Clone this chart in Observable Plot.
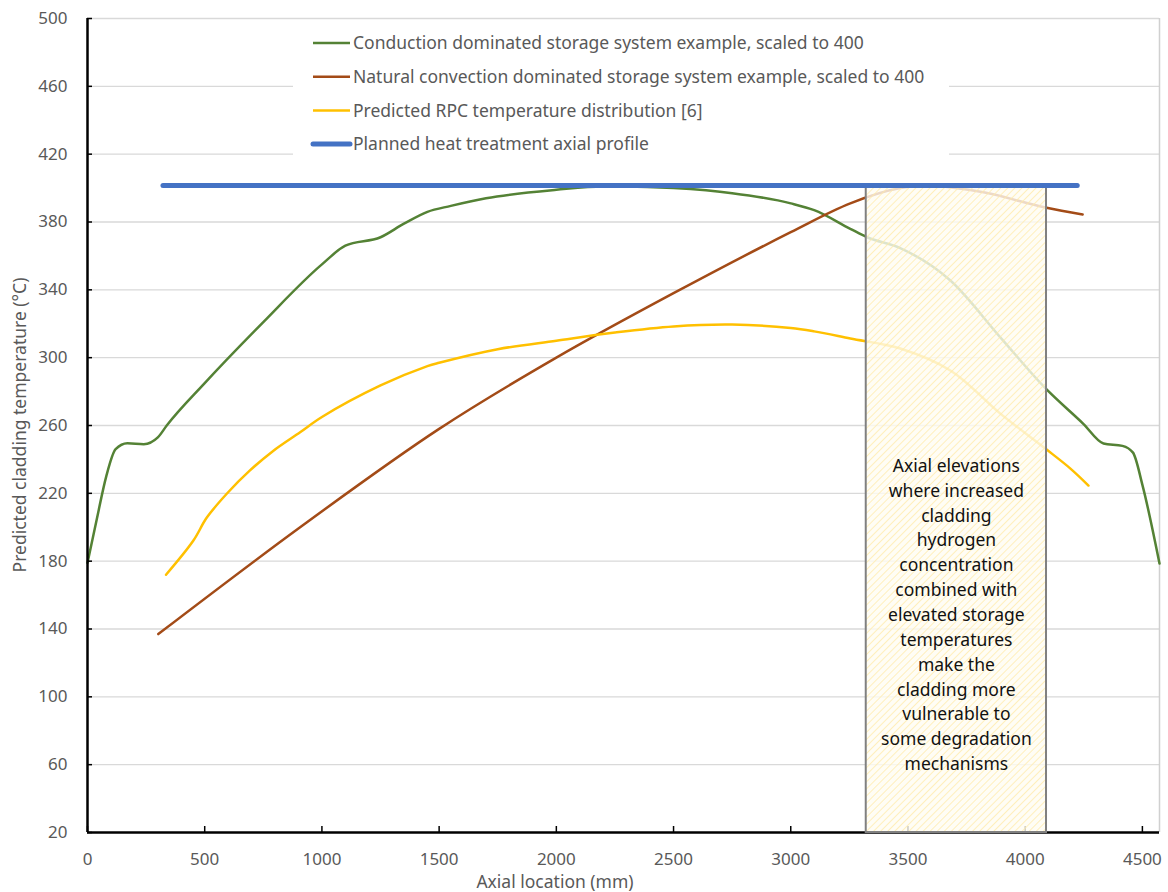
<!DOCTYPE html>
<html><head><meta charset="utf-8">
<script src="https://cdn.jsdelivr.net/npm/d3@7"></script>
<script src="https://cdn.jsdelivr.net/npm/@observablehq/plot@0.6"></script>
<style>body{margin:0;background:#fff} #chart svg{display:block}</style>
</head><body><div id="chart"></div>
<script>
// ---- data ----
const xTicks = [0, 500, 1000, 1500, 2000, 2500, 3000, 3500, 4000, 4500];
const yTicks = [20, 60, 100, 140, 180, 220, 260, 300, 340, 380, 420, 460, 500];
const xMax = 4573;

const seriesNames = [
  "Conduction dominated storage system example, scaled to 400",
  "Natural convection dominated storage system example, scaled to 400",
  "Predicted RPC temperature distribution [6]",
  "Planned heat treatment axial profile"
];
const seriesColors = ["#548235", "#a34b17", "#ffc000", "#4472c4"];

const condX = [0, 40, 80, 120, 170, 240, 300, 338, 500, 750, 1000, 1100, 1250, 1350, 1450, 1550, 1700, 2000, 2200, 2300, 2500, 2750, 3000, 3100, 3254, 3326, 3467, 3681, 3894, 4086, 4248, 4334, 4415, 4460, 4500, 4573];
const condT = [179, 205, 230, 246, 249.5, 249, 253, 260, 285, 321, 355, 366, 371, 379, 386, 389.5, 394, 399, 401, 401, 400, 397, 391, 387, 376, 371, 364.6, 345.5, 312, 282, 261, 249.4, 248, 244, 225, 178.6];

const natX = [302, 907, 1500, 2000, 2500, 3000, 3254, 3467, 3608, 3822, 4086, 4245];
const natT = [137, 200, 258, 300, 338, 374, 391, 400, 401.3, 397.5, 388.5, 384.4];

const rpcX = [335, 451, 509, 595, 693, 792, 907, 1000, 1250, 1450, 1500, 1750, 2000, 2250, 2500, 2750, 3000, 3100, 3254, 3467, 3681, 3894, 4086, 4193, 4270];
const rpcT = [172, 192, 205.7, 219.9, 233.5, 245, 256, 265, 283.6, 295, 297, 305, 310, 314.8, 318.4, 319.5, 317.5, 315.5, 311.3, 305.4, 292.4, 267, 246.4, 234.6, 224.6];

const planX = [322, 4222];
const planT = [401.5, 401.5];

const zoneX1 = 3322, zoneX2 = 4091, zoneY1 = 20, zoneY2 = 401;
const noteText = "Axial elevations\nwhere increased\ncladding\nhydrogen\nconcentration\ncombined with\nelevated storage\ntemperatures\nmake the\ncladding more\nvulnerable to\nsome degradation\nmechanisms";
const noteY = 149.4;

// ---- build tables ----
const toRows = (xs, ts) => xs.map((x, i) => ({x, t: ts[i]}));
const cond = toRows(condX, condT);
const nat = toRows(natX, natT);
const rpc = toRows(rpcX, rpcT);
const plan = toRows(planX, planT);
const zone = [{x1: zoneX1, x2: zoneX2, y1: zoneY1, y2: zoneY2}];
const note = [{x: (zoneX1 + zoneX2) / 2, y: noteY, text: noteText}];

const font = "'Noto Sans', sans-serif";
const fmt = d3.format("d");

const chart = Plot.plot({
  width: 1168, height: 892,
  marginLeft: 87, marginRight: 9, marginTop: 18, marginBottom: 60,
  style: {fontFamily: font, fontSize: "17px", color: "#595959", background: "#fff"},
  x: {domain: [0, xMax], label: null},
  y: {domain: [20, 500], label: null},
  marks: [
    Plot.gridY(yTicks.filter(t => t > 20), {stroke: "#d9d9d9", strokeOpacity: 1, strokeWidth: 1.3}),
    Plot.ruleX([xMax], {stroke: "#d0d0d0", strokeWidth: 1.5}),
    Plot.axisX({ticks: xTicks, tickSize: -6, text: null, stroke: "#000", strokeWidth: 1.5, label: null}),
    Plot.ruleY([20], {stroke: "#000", strokeWidth: 2.5}),
    Plot.line(cond, {x: "x", y: "t", stroke: seriesColors[0], strokeWidth: 2.5, curve: "monotone-x"}),
    Plot.line(nat, {x: "x", y: "t", stroke: seriesColors[1], strokeWidth: 2.5, curve: "catmull-rom"}),
    Plot.line(rpc, {x: "x", y: "t", stroke: seriesColors[2], strokeWidth: 2.5, curve: "catmull-rom"}),
    Plot.rect(zone, {x1: "x1", x2: "x2", y1: "y1", y2: "y2", fill: "white", fillOpacity: 0.5}),
    Plot.rect(zone, {x1: "x1", x2: "x2", y1: "y1", y2: "y2", fill: "url(#hatch)"}),
    Plot.rect(zone, {x1: "x1", x2: "x2", y1: "y1", y2: "y2", fill: "none", stroke: "#808080", strokeWidth: 2}),
    Plot.text(note, {x: "x", y: "y", text: "text", lineHeight: 1.42, fontSize: 17.5, fill: "#111", lineAnchor: "middle"}),
    Plot.line(plan, {x: "x", y: "t", stroke: seriesColors[3], strokeWidth: 5, strokeLinecap: "round"}),
    Plot.ruleX([0], {stroke: "#000", strokeWidth: 2.5}),
    Plot.axisY({ticks: yTicks, tickSize: -5, text: null, stroke: "#000", strokeWidth: 1.5, label: null}),
    Plot.axisY({ticks: yTicks, tickSize: 0, tickPadding: 20, tickFormat: fmt, color: "#595959", label: null}),
    Plot.axisX({ticks: xTicks, tickSize: 0, tickPadding: 20, tickFormat: fmt, color: "#595959", label: null})
  ]
});

const svg = d3.select(chart);
// hatch pattern for the highlighted zone
const pat = svg.insert("defs", ":first-child").append("pattern")
  .attr("id", "hatch").attr("patternUnits", "userSpaceOnUse")
  .attr("width", 5).attr("height", 5).attr("patternTransform", "rotate(45)");
pat.append("rect").attr("width", 5).attr("height", 5).attr("fill", "#fffbee").attr("fill-opacity", 0.6);
pat.append("line").attr("x1", 0).attr("y1", 0).attr("x2", 0).attr("y2", 5)
  .attr("stroke", "#ffe9a8").attr("stroke-width", 2).attr("stroke-opacity", 0.75);

// legend (inside the plot, top)
const lg = svg.append("g").attr("font-family", font).attr("font-size", 17.5).attr("text-anchor", "start");
lg.append("rect").attr("x", 293).attr("y", 24).attr("width", 656).attr("height", 136).attr("fill", "#fff");
seriesNames.forEach((name, i) => {
  const yy = 43 + i * 33.7;
  lg.append("line").attr("x1", 313).attr("x2", 350).attr("y1", yy).attr("y2", yy)
    .attr("stroke", seriesColors[i]).attr("stroke-width", i === 3 ? 5 : 2.5)
    .attr("stroke-linecap", i === 3 ? "round" : "butt");
  lg.append("text").attr("x", 353).attr("y", yy).attr("dy", "0.35em")
    .attr("text-anchor", "start").attr("fill", "#595959").text(name);
});

// axis titles
svg.append("text").attr("transform", "translate(20,425) rotate(-90)")
  .attr("text-anchor", "middle").attr("dy", "0.35em").attr("font-family", font).attr("font-size", 17.5)
  .attr("fill", "#595959").text("Predicted cladding temperature (°C)");
svg.append("text").attr("x", 555).attr("y", 882).attr("dy", "0.35em")
  .attr("text-anchor", "middle").attr("font-family", font).attr("font-size", 17.5)
  .attr("fill", "#595959").text("Axial location (mm)");

document.getElementById("chart").append(chart);
</script>
</body></html>
